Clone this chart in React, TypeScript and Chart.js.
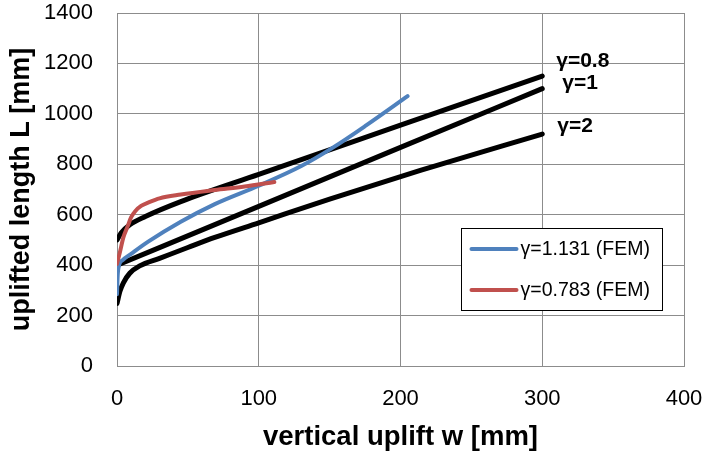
import React, { useEffect, useRef } from "react";
import { Chart, registerables } from "chart.js";

Chart.register(...registerables);

// ---- data ----
const xTicks = [0, 100, 200, 300, 400];
const yTicks = [0, 200, 400, 600, 800, 1000, 1200, 1400];

const fem1131Label = "γ=1.131 (FEM)";
const fem1131W = [0, 0.5, 1.5, 4, 10, 22, 45, 69, 100, 130, 152, 176, 205];
const fem1131L = [285, 360, 400, 420, 445, 493, 572, 642, 715, 793, 865, 955, 1070];

const fem0783Label = "γ=0.783 (FEM)";
const fem0783W = [0, 2, 4.5, 7.6, 10, 13, 17, 22, 30, 45, 69, 90, 111];
const fem0783L = [405, 450, 510, 555, 590, 615, 635, 648, 665, 680, 698, 712, 730];

const g08Label = "γ=0.8";
const g08W = [0, 3, 9, 20, 45, 100, 200, 300];
const g08L = [500, 528, 560, 593, 652, 760, 955, 1150];

const g1Label = "γ=1";
const g1W = [0, 100, 200, 300];
const g1L = [400, 633, 867, 1100];

const g2Label = "γ=2";
const g2W = [0, 2, 4.5, 9, 16, 30, 50, 69, 100, 150, 214, 300];
const g2L = [248, 295, 330, 368, 397, 427, 470, 510, 568, 662, 776, 920];

const pts = (w: number[], l: number[]) => w.map((x, i) => ({ x, y: l[i] }));

const BLUE = "#4F81BD";
const RED = "#C0504D";
const BLACK = "#000000";
const GRID = "#8c8c8c";
const FONT = "'Liberation Sans', Arial, sans-serif";

// offsets of curve labels from the end of each analytic curve (pixels)
const curveLabelOffsets: Record<string, [number, number]> = {
  [g08Label]: [14, -15],
  [g1Label]: [20, -5],
  [g2Label]: [15, -8],
};

const overlayPlugin = {
  id: "overlay",
  afterDatasetsDraw(chart: any) {
    const ctx = chart.ctx as CanvasRenderingContext2D;
    const xs = chart.scales.x;
    const ys = chart.scales.y;
    const area = chart.chartArea;
    ctx.save();
    // curve labels
    ctx.font = `bold 21px ${FONT}`;
    ctx.fillStyle = "#000";
    ctx.textAlign = "left";
    ctx.textBaseline = "middle";
    chart.data.datasets.forEach((ds: any) => {
      const off = curveLabelOffsets[ds.label];
      if (!off) return;
      const last = ds.data[ds.data.length - 1];
      const px = xs.getPixelForValue(last.x) + off[0];
      const py = ys.getPixelForValue(last.y) + off[1];
      ctx.fillText(ds.label, px, py);
    });
    // legend
    const entries = chart.data.datasets.filter((ds: any) => ds.inLegend);
    entries.sort((a: any, b: any) => a.legendOrder - b.legendOrder);
    const bx = Math.round(area.right - 223) + 0.5;
    const by = Math.round(area.top + 215) + 0.5;
    const bw = 201;
    const bh = 82;
    ctx.fillStyle = "#fff";
    ctx.fillRect(bx, by, bw, bh);
    ctx.strokeStyle = "#000";
    ctx.lineWidth = 1;
    ctx.strokeRect(bx, by, bw, bh);
    ctx.font = `19.5px ${FONT}`;
    entries.forEach((ds: any, i: number) => {
      const cy = by + 20.5 + i * 41;
      ctx.strokeStyle = ds.borderColor;
      ctx.lineWidth = 4;
      ctx.lineCap = "round";
      ctx.beginPath();
      ctx.moveTo(bx + 10, cy);
      ctx.lineTo(bx + 55, cy);
      ctx.stroke();
      ctx.fillStyle = "#000";
      ctx.fillText(ds.label, bx + 59, cy + 1);
    });
    ctx.restore();
  },
};

export default function App() {
  const ref = useRef<HTMLCanvasElement | null>(null);
  useEffect(() => {
    if (!ref.current) return;
    const line = (label: string, w: number[], l: number[], color: string, width: number, extra: any = {}) => ({
      label,
      data: pts(w, l),
      borderColor: color,
      backgroundColor: color,
      borderWidth: width,
      pointRadius: 0,
      pointHoverRadius: 0,
      showLine: true,
      cubicInterpolationMode: "monotone",
      borderCapStyle: "round",
      borderJoinStyle: "round",
      fill: false,
      ...extra,
    });
    const chart = new Chart(ref.current, {
      type: "scatter",
      data: {
        datasets: [
          line(fem0783Label, fem0783W, fem0783L, RED, 4, { inLegend: true, legendOrder: 1 }),
          line(fem1131Label, fem1131W, fem1131L, BLUE, 4, { inLegend: true, legendOrder: 0 }),
          line(g08Label, g08W, g08L, BLACK, 5),
          line(g1Label, g1W, g1L, BLACK, 5),
          line(g2Label, g2W, g2L, BLACK, 5),
        ] as any,
      },
      options: {
        animation: false,
        responsive: false,
        maintainAspectRatio: false,
        layout: { padding: { top: 13, right: 21, bottom: 0, left: 0 } },
        plugins: {
          legend: { display: false },
          tooltip: { enabled: false },
        },
        scales: {
          x: {
            type: "linear",
            min: xTicks[0],
            max: xTicks[xTicks.length - 1],
            afterBuildTicks: (s: any) => {
              s.ticks = xTicks.map((v) => ({ value: v }));
            },
            afterFit: (s: any) => {
              s.height = 88;
              s.paddingLeft = 0;
              s.paddingRight = 0;
              s.paddingTop = 0;
              s.paddingBottom = 0;
            },
            grid: { color: GRID, lineWidth: 1, drawTicks: false },
            border: { color: GRID, width: 1 },
            ticks: {
              padding: 20,
              color: "#000",
              font: { family: FONT, size: 22 },
              maxRotation: 0,
              callback: (v: any) => String(v),
            },
            title: {
              display: true,
              text: "vertical uplift w [mm]",
              color: "#000",
              font: { family: FONT, size: 27.5, weight: "bold", lineHeight: 1.2 },
              padding: { top: 0, bottom: 0 },
            },
          },
          y: {
            type: "linear",
            min: yTicks[0],
            max: yTicks[yTicks.length - 1],
            afterBuildTicks: (s: any) => {
              s.ticks = yTicks.map((v) => ({ value: v }));
            },
            afterFit: (s: any) => {
              s.width = 117;
              s.paddingLeft = 0;
              s.paddingRight = 0;
              s.paddingTop = 0;
              s.paddingBottom = 0;
            },
            grid: { color: GRID, lineWidth: 1, drawTicks: false },
            border: { color: GRID, width: 1 },
            ticks: {
              padding: 24,
              color: "#000",
              font: { family: FONT, size: 22 },
              callback: (v: any) => String(v),
            },
            title: {
              display: true,
              text: "uplifted length L [mm]",
              color: "#000",
              font: { family: FONT, size: 27, weight: "bold", lineHeight: 1.2 },
              padding: { top: 5, bottom: 0 },
            },
          },
        },
      } as any,
      plugins: [overlayPlugin],
    });
    return () => chart.destroy();
  }, []);
  return (
    <div style={{ position: "fixed", left: 0, top: 0, width: 705, height: 454, background: "#fff" }}>
      <canvas ref={ref} width={705} height={454} style={{ width: 705, height: 454, display: "block" }} />
    </div>
  );
}
